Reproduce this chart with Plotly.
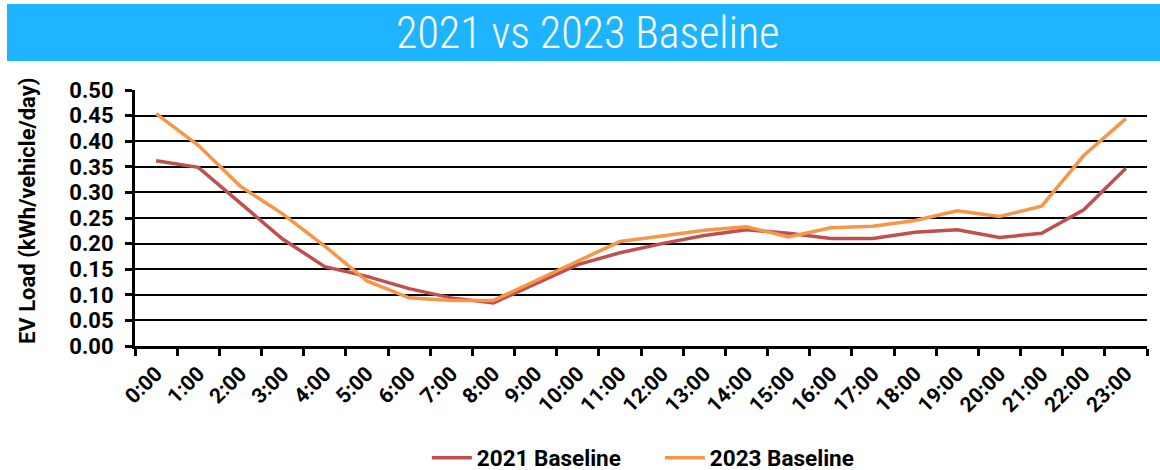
import plotly.graph_objects as go

# Hourly EV load profiles (kWh/vehicle/day)
hours = [f"{h}:00" for h in range(24)]
baseline_2021 = [0.362, 0.349, 0.279, 0.209, 0.155, 0.136, 0.112, 0.094, 0.084, 0.122,
                 0.159, 0.182, 0.200, 0.216, 0.227, 0.220, 0.210, 0.210, 0.222, 0.227,
                 0.212, 0.220, 0.266, 0.347]
baseline_2023 = [0.454, 0.392, 0.312, 0.258, 0.195, 0.127, 0.094, 0.089, 0.089, 0.127,
                 0.165, 0.204, 0.215, 0.226, 0.233, 0.213, 0.231, 0.234, 0.245, 0.264,
                 0.253, 0.273, 0.372, 0.444]
y_ticks = [0.00, 0.05, 0.10, 0.15, 0.20, 0.25, 0.30, 0.35, 0.40, 0.45, 0.50]

RED = "#C0504D"
ORANGE = "#F79646"
BANNER = "#1FB4FF"
TXT_FONT = "Roboto, Arial, sans-serif"

fig = go.Figure()
fig.add_trace(go.Scatter(x=hours, y=baseline_2021, mode="lines", name="2021 Baseline",
                         line=dict(color=RED, width=3.5)))
fig.add_trace(go.Scatter(x=hours, y=baseline_2023, mode="lines", name="2023 Baseline",
                         line=dict(color=ORANGE, width=3.5)))

L, R, T, B = 135, 13, 90, 124
W, H = 1160, 470
pw, ph = W - L - R, H - T - B


def px_x(px):
    return (px - L) / pw


def px_y(py):
    return (H - B - py) / ph


fig.update_layout(
    width=W, height=H,
    margin=dict(l=L, r=R, t=T, b=B, autoexpand=False),
    paper_bgcolor="white", plot_bgcolor="white",
    font=dict(family=TXT_FONT, color="black"),
    showlegend=True,
    legend=dict(orientation="h", x=px_x(439) - 0.012, xanchor="left", y=px_y(458), yanchor="middle",
                font=dict(size=22.5, weight="bold", family=TXT_FONT),
                itemwidth=40, tracegroupgap=0, entrywidthmode="pixels", entrywidth=178,
                bgcolor="rgba(0,0,0,0)"),
    xaxis=dict(
        type="category", range=[-0.5, 23.5], tickson="boundaries", automargin=False,
        ticks="outside", ticklen=7, tickwidth=2.5, tickcolor="black",
        showline=True, linecolor="black", linewidth=3,
        showgrid=False, zeroline=False, ticklabelstandoff=4,
        tickangle=-45, tickfont=dict(size=21, weight="bold", family=TXT_FONT),
    ),
    yaxis=dict(
        range=[0, 0.5], tickvals=y_ticks, tickformat=".2f", automargin=False,
        ticks="outside", ticklen=7, tickwidth=2.5, tickcolor="black",
        showline=True, linecolor="black", linewidth=3, ticklabelstandoff=7,
        showgrid=True, gridcolor="black", gridwidth=1.5, zeroline=False,
        tickfont=dict(size=22, weight="bold", family=TXT_FONT),
    ),
    shapes=[dict(type="rect", xref="paper", yref="paper",
                 x0=px_x(7), x1=px_x(1162), y0=px_y(61), y1=px_y(4),
                 fillcolor=BANNER, line=dict(width=0), layer="below")],
    annotations=[
        dict(text="2021 vs 2023 Baseline", xref="paper", yref="paper",
             x=px_x(587), y=px_y(33), xanchor="center", yanchor="middle", showarrow=False,
             font=dict(size=44, color="white", weight=300,
                       family="Roboto Condensed, Liberation Sans Narrow, Roboto, sans-serif")),
        dict(text="EV Load (kWh/vehicle/day)", xref="paper", yref="paper",
             x=px_x(27), y=px_y(211), xanchor="center", yanchor="middle", showarrow=False,
             textangle=-90, font=dict(size=22, weight="bold", family=TXT_FONT)),
    ],
)

fig.write_html("out.html")
